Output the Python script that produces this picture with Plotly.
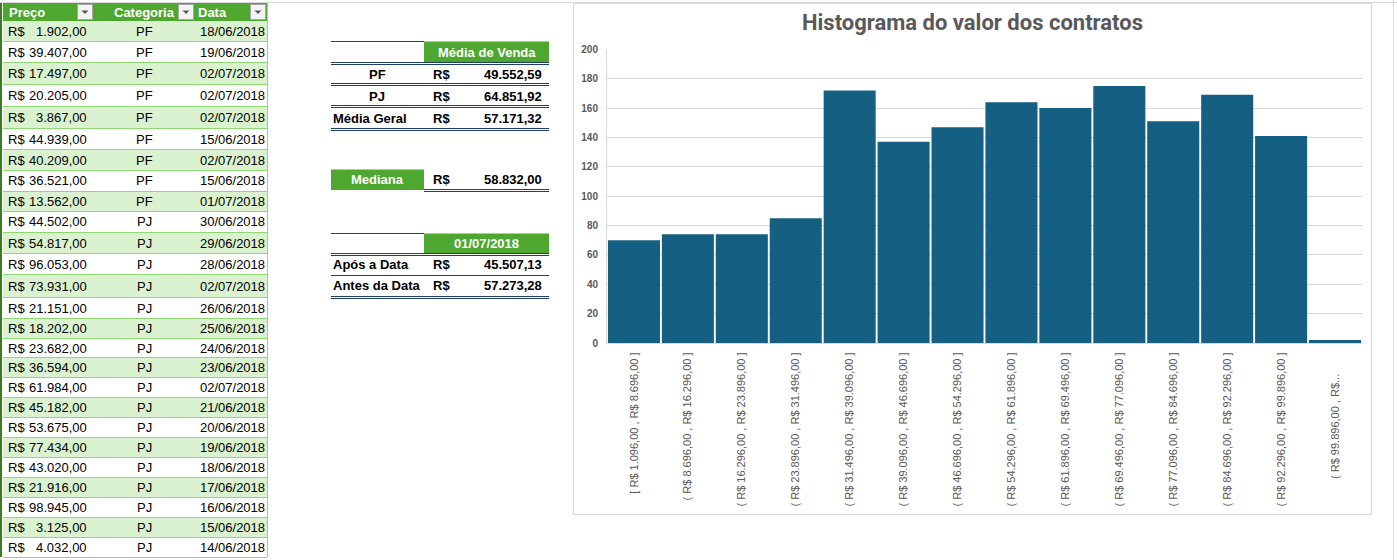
import plotly.graph_objects as go

W, H = 1397, 560

# ---------------- data ----------------
cabecalho = ["Preço", "Categoria", "Data"]
precos = [1902, 39407, 17497, 20205, 3867, 44939, 40209, 36521, 13562,
          44502, 54817, 96053, 73931, 21151, 18202, 23682, 36594, 61984,
          45182, 53675, 77434, 43020, 21916, 98945, 3125, 4032]
categorias = ["PF", "PF", "PF", "PF", "PF", "PF", "PF", "PF", "PF",
              "PJ", "PJ", "PJ", "PJ", "PJ", "PJ", "PJ", "PJ", "PJ",
              "PJ", "PJ", "PJ", "PJ", "PJ", "PJ", "PJ", "PJ"]
datas = ["18/06/2018", "19/06/2018", "02/07/2018", "02/07/2018", "02/07/2018",
         "15/06/2018", "02/07/2018", "15/06/2018", "01/07/2018", "30/06/2018",
         "29/06/2018", "28/06/2018", "02/07/2018", "26/06/2018", "25/06/2018",
         "24/06/2018", "23/06/2018", "02/07/2018", "21/06/2018", "20/06/2018",
         "19/06/2018", "18/06/2018", "17/06/2018", "16/06/2018", "15/06/2018",
         "14/06/2018"]

media_titulo = "Média de Venda"
media_rotulos = ["PF", "PJ", "Média Geral"]
media_valores = [49552.59, 64851.92, 57171.32]
mediana_rotulo = "Mediana"
mediana_valor = 58832.00
corte_titulo = "01/07/2018"
corte_rotulos = ["Após a Data", "Antes da Data"]
corte_valores = [45507.13, 57273.28]

titulo = "Histograma do valor dos contratos"
limites = [1096, 8696, 16296, 23896, 31496, 39096, 46696, 54296,
           61896, 69496, 77096, 84696, 92296, 99896]
contagens = [70, 74, 74, 85, 172, 137, 147, 164, 160, 175, 151, 169, 141, 2]


def brl(v):
    s = f"{v:,.2f}"
    return s.replace(",", "#").replace(".", ",").replace("#", ".")


rotulos_x = []
for i in range(len(limites) - 1):
    abre = "[" if i == 0 else "("
    rotulos_x.append(f"{abre} R$ {brl(limites[i])} , R$ {brl(limites[i + 1])} ]")
rotulos_x.append(f"( R$ {brl(limites[-1])} , R$..." + "\u00a0" * 7)

# ---------------- style ----------------
VERDE = "#4EA72E"
VERDE_CLARO = "#DAF2D0"
VERDE_LINHA = "#8ED973"
AZUL_LINHA = "#1F3F63"
CINZA = "#595959"
GRADE = "#D9D9D9"
BARRA = "#156082"
FONTE = "Liberation Sans"

# row boundaries of the spreadsheet table (pixels from top)
LIMITES_LINHAS = [21, 41, 62, 84, 106, 128, 149, 170, 191, 211, 232, 253, 274,
                  297, 318, 338, 357, 377, 397, 417, 437, 457, 477, 497, 517, 537, 557]


def px(x):
    return x / W


def py(y):
    return 1 - y / H


shapes = []
annotations = []


def hline(x0, x1, y, color, w=1):
    shapes.append(dict(type="line", xref="paper", yref="paper", x0=px(x0), x1=px(x1),
                       y0=py(y), y1=py(y), line=dict(color=color, width=w), layer="above"))


def vline(x, y0, y1, color, w=1):
    shapes.append(dict(type="line", xref="paper", yref="paper", x0=px(x), x1=px(x),
                       y0=py(y0), y1=py(y1), line=dict(color=color, width=w), layer="above"))


def dline(x0, x1, y, color=AZUL_LINHA):
    hline(x0, x1, y - 1, color)
    hline(x0, x1, y + 1, color)


def rect(x0, y0, x1, y1, fill, line=None, lw=0):
    shapes.append(dict(type="rect", xref="paper", yref="paper", x0=px(x0), x1=px(x1),
                       y0=py(y1), y1=py(y0), fillcolor=fill,
                       line=dict(color=line or fill, width=lw), layer="below"))


def text(x, y, s, anchor="left", size=13, color="black", bold=False, family=FONTE):
    annotations.append(dict(xref="paper", yref="paper", x=px(x), y=py(y), text=s,
                            showarrow=False, xanchor=anchor, yanchor="middle",
                            borderpad=0, borderwidth=0,
                            font=dict(family=family, size=size, color=color,
                                      weight="bold" if bold else "normal")))


# page lines
hline(0, W, 2.5, GRADE)
vline(1393.5, 0, H, GRADE)

# ---------------- left table ----------------
TX0, TX1 = 3, 267.5
HY0, HY1 = 3, LIMITES_LINHAS[0]
rect(TX0, HY0, TX1, HY1, VERDE)
for i in range(len(precos)):
    y0 = LIMITES_LINHAS[i]
    y1 = LIMITES_LINHAS[i + 1]
    if i % 2 == 0:
        rect(TX0, y0, TX1, y1, VERDE_CLARO)
    hline(TX0, TX1, y1 + 0.5, VERDE_LINHA)
    yc = (y0 + y1) / 2 + 0.5
    text(8, yc, "R$", "left", 13)
    text(87, yc, brl(precos[i]), "right", 13)
    text(144, yc, categorias[i], "center", 13)
    text(265, yc, datas[i], "right", 13)
vline(TX1, HY1, LIMITES_LINHAS[-1], VERDE_LINHA)
vline(1, 3, LIMITES_LINHAS[-1], "#3C7A24", 2)

hdr_x = [9, 114, 198]
btn_x = [77, 178, 250]
for lab, hx, bx in zip(cabecalho, hdr_x, btn_x):
    text(hx, 12.5, lab, "left", 13, "white", True)
    shapes.append(dict(type="rect", xref="paper", yref="paper", x0=px(bx + 0.5), x1=px(bx + 15.5),
                       y0=py(19.5), y1=py(4.5), fillcolor="#F4F4F4",
                       line=dict(color="#A6A6A6", width=1), layer="above"))
    cx, cy = bx + 8, 12
    shapes.append(dict(type="path", xref="paper", yref="paper",
                       path=f"M {px(cx - 3.5)},{py(cy - 1.5)} L {px(cx + 3.5)},{py(cy - 1.5)} L {px(cx)},{py(cy + 2)} Z",
                       fillcolor="#595959", line=dict(width=0), layer="above"))

# ---------------- summary tables ----------------
LX0, LMID, LX1 = 331, 424, 549
RSX, VALX = 433, 542

# table 1 - média de venda
hline(LX0, LMID, 41.5, AZUL_LINHA)
rect(LMID, 41.5, LX1, 62, VERDE)
text((LMID + LX1) / 2, 52, media_titulo, "center", 13, "white", True)
dline(LX0, LX1, 63.5)
row_lines = [84.5, 106.5, 129.5]
row_centers = [74.5, 96, 118]
for lab, val, yl, yc in zip(media_rotulos, media_valores, row_lines, row_centers):
    if len(lab) <= 2:
        text((LX0 + LMID) / 2, yc, lab, "center", 13, "black", True)
    else:
        text(LX0 + 2, yc, lab, "left", 13, "black", True)
    text(RSX, yc, "R$", "left", 13, "black", True)
    text(VALX, yc, brl(val), "right", 13, "black", True)
    dline(LX0, LX1, yl)

# table 2 - mediana
rect(LX0, 169.5, LMID, 190, VERDE)
text((LX0 + LMID) / 2, 180, mediana_rotulo, "center", 13, "white", True)
text(RSX, 180, "R$", "left", 13, "black", True)
text(VALX, 180, brl(mediana_valor), "right", 13, "black", True)
dline(LMID, LX1, 190.5)

# table 3 - data de corte
hline(LX0, LMID, 233.5, AZUL_LINHA)
rect(LMID, 233.5, LX1, 253, VERDE)
text((LMID + LX1) / 2, 243.5, corte_titulo, "center", 13, "white", True)
dline(LX0, LX1, 254.5)
c_lines = [275.5, 297.5]
c_centers = [264.5, 285.5]
for k, (lab, val, yl, yc) in enumerate(zip(corte_rotulos, corte_valores, c_lines, c_centers)):
    text(LX0 + 2, yc, lab, "left", 13, "black", True)
    text(RSX, yc, "R$", "left", 13, "black", True)
    text(VALX, yc, brl(val), "right", 13, "black", True)
    if k == 0:
        hline(LX0, LX1, yl, AZUL_LINHA)
    else:
        dline(LX0, LX1, yl)

# ---------------- chart ----------------
shapes.append(dict(type="rect", xref="paper", yref="paper", x0=px(573.5), x1=px(1371.5),
                   y0=py(514.5), y1=py(3.5), fillcolor="rgba(0,0,0,0)",
                   line=dict(color=GRADE, width=1), layer="below"))
text(972, 23, titulo, "center", 22, CINZA, True, "Roboto")

fig = go.Figure(go.Bar(x=rotulos_x, y=contagens, marker=dict(color=BARRA, line=dict(width=0)),
                       hoverinfo="x+y"))

fig.update_layout(
    width=W, height=H, autosize=False,
    margin=dict(l=0, r=0, t=0, b=0, pad=0),
    paper_bgcolor="white", plot_bgcolor="white",
    font=dict(family=FONTE, color=CINZA),
    bargap=0.035,
    showlegend=False,
    shapes=shapes,
    annotations=annotations,
    xaxis=dict(domain=[px(607), px(1362)], type="category", tickangle=-90,
               tickfont=dict(family=FONTE, size=11, color=CINZA),
               showline=True, linecolor=GRADE, linewidth=1, ticks="",
               showgrid=False, automargin=False, ticklabelstandoff=4),
    yaxis=dict(domain=[py(343), py(49.3)], range=[0, 200], dtick=20,
               tickfont=dict(family=FONTE, size=10, color=CINZA, weight="bold"),
               showgrid=True, gridcolor=GRADE, gridwidth=1,
               showline=True, linecolor=GRADE, linewidth=1, ticks="",
               zeroline=False, automargin=False, ticklabelstandoff=6),
)

fig.write_html("out.html")
